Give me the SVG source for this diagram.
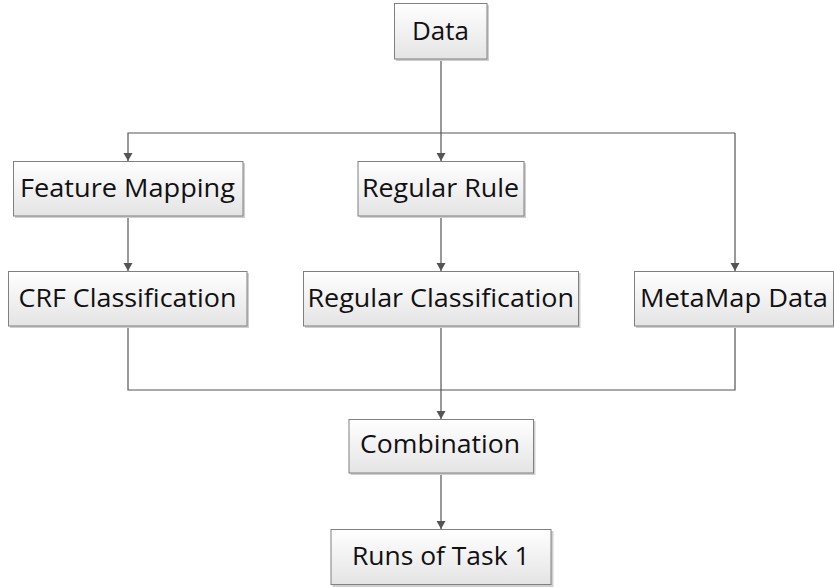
<svg xmlns="http://www.w3.org/2000/svg" width="834" height="587" viewBox="0 0 834 587">
<defs>
<linearGradient id="g" x1="0" y1="0" x2="0" y2="1">
<stop offset="0" stop-color="#ffffff"/>
<stop offset="1" stop-color="#e4e4e4"/>
</linearGradient>
<marker id="ah" markerUnits="userSpaceOnUse" markerWidth="10" markerHeight="10" refX="8" refY="4.5" orient="auto">
<path d="M0,0 L8,4.5 L0,9 z" fill="#555555"/>
</marker>
</defs>
<style>
.box{fill:url(#g);stroke:#808080;stroke-width:1}
.sh{fill:#cfcfcf}
.t{font-family:"Open Sans","Noto Sans","DejaVu Sans",sans-serif;font-size:25px;fill:#111;}
.c{fill:none;stroke:#555555;stroke-width:1.2}
</style>
<rect width="834" height="587" fill="#ffffff"/>
<g id="connectors">
<path class="c" d="M441,59 V161" marker-end="url(#ah)"/>
<path class="c" d="M735,133 H128 V161" marker-end="url(#ah)"/>
<path class="c" d="M735,133 V271" marker-end="url(#ah)"/>
<path class="c" d="M128,216 V271" marker-end="url(#ah)"/>
<path class="c" d="M441,216 V271" marker-end="url(#ah)"/>
<path class="c" d="M128,326 V390 H735 V326"/>
<path class="c" d="M441,326 V419" marker-end="url(#ah)"/>
<path class="c" d="M441,473 V529" marker-end="url(#ah)"/>
</g>
<g id="data">
<rect class="sh" x="396" y="5" width="93" height="56"/>
<rect class="box" x="394.5" y="3.5" width="92.5" height="55.5"/>
<text class="t" x="412" y="39.5" textLength="57" lengthAdjust="spacingAndGlyphs">Data</text>
</g>
<g id="feature-mapping">
<rect class="sh" x="15" y="163" width="230" height="55"/>
<rect class="box" x="13.5" y="161.5" width="229.5" height="54.5"/>
<text class="t" x="20" y="196.5" textLength="215" lengthAdjust="spacingAndGlyphs">Feature Mapping</text>
</g>
<g id="regular-rule">
<rect class="sh" x="359.5" y="163" width="166.5" height="55"/>
<rect class="box" x="358" y="161.5" width="166" height="54.5"/>
<text class="t" x="362" y="196.5" textLength="157" lengthAdjust="spacingAndGlyphs">Regular Rule</text>
</g>
<g id="crf-classification">
<rect class="sh" x="10" y="273" width="239" height="55"/>
<rect class="box" x="8.5" y="271.5" width="238.5" height="54.5"/>
<text class="t" x="18.5" y="306.5" textLength="218" lengthAdjust="spacingAndGlyphs">CRF Classification</text>
</g>
<g id="regular-classification">
<rect class="sh" x="305" y="273" width="275.5" height="55"/>
<rect class="box" x="303.5" y="271.5" width="275" height="54.5"/>
<text class="t" x="307.5" y="306.5" textLength="266.5" lengthAdjust="spacingAndGlyphs">Regular Classification</text>
</g>
<g id="metamap-data">
<rect class="sh" x="636" y="273" width="200" height="55"/>
<rect class="box" x="634.5" y="271.5" width="199" height="54.5"/>
<text class="t" x="640" y="306.5" textLength="188" lengthAdjust="spacingAndGlyphs">MetaMap Data</text>
</g>
<g id="combination">
<rect class="sh" x="350.5" y="421" width="185" height="54"/>
<rect class="box" x="349" y="419.5" width="184.5" height="53.5"/>
<text class="t" x="360" y="453" textLength="160" lengthAdjust="spacingAndGlyphs">Combination</text>
</g>
<g id="runs-of-task-1">
<rect class="sh" x="332.5" y="531" width="221" height="56"/>
<rect class="box" x="331" y="529.5" width="220" height="55"/>
<text class="t" x="352" y="565" textLength="177.5" lengthAdjust="spacingAndGlyphs">Runs of Task 1</text>
</g>
</svg>
